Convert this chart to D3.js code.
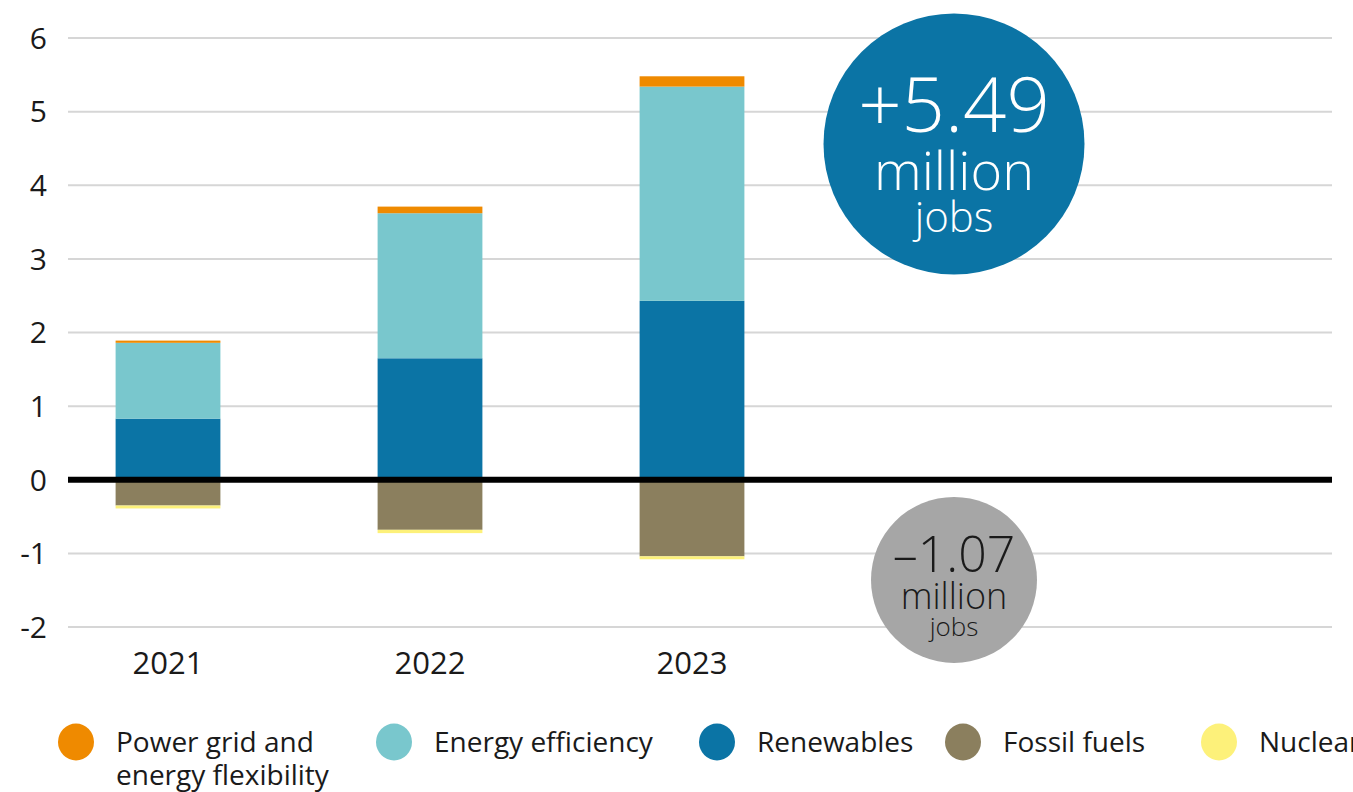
<!DOCTYPE html>
<html><head><meta charset="utf-8">
<script src="https://cdn.jsdelivr.net/npm/d3@7"></script>
<style>
html,body{margin:0;padding:0;background:#fff;}
svg{display:block;}
text{font-family:"Open Sans",sans-serif;}
</style></head>
<body>
<svg id="chart" width="1353" height="792"></svg>
<script>
const years = ["2021", "2022", "2023"];
const renewables = [0.83, 1.65, 2.43];
const energyEfficiency = [1.03, 1.97, 2.91];
const powerGrid = [0.03, 0.09, 0.14];
const fossilFuels = [-0.35, -0.68, -1.04];
const nuclear = [-0.04, -0.045, -0.04];
const yTicks = [-2, -1, 0, 1, 2, 3, 4, 5, 6];
const seriesKeys = ["renewables", "efficiency", "grid", "fossil", "nuclear"];
const legendLabels = [["Power grid and", "energy flexibility"], ["Energy efficiency"], ["Renewables"], ["Fossil fuels"], ["Nuclear"]];
const legendKeys = ["grid", "efficiency", "renewables", "fossil", "nuclear"];
const totalPositive = ["+5.49", "million", "jobs"];
const totalNegative = ["\u20131.07", "million", "jobs"];

const colors = {grid:"#ef8a00", efficiency:"#79c7cd", renewables:"#0b74a5", fossil:"#8b7f5e", nuclear:"#fdf17a"};

const table = years.map((yr, i) => ({year: yr, renewables: renewables[i], efficiency: energyEfficiency[i], grid: powerGrid[i], fossil: fossilFuels[i], nuclear: nuclear[i]}));

const svg = d3.select("#chart");
const x0 = 68, x1 = 1332;
const y = d3.scaleLinear().domain([-2, 6]).range([627, 38]);
const x = d3.scaleBand().domain(years).range([37, 823]).paddingInner(0.6).paddingOuter(0.3);

// gridlines
svg.append("g").selectAll("line").data(yTicks.filter(d => d !== 0)).join("line")
  .attr("x1", x0).attr("x2", x1)
  .attr("y1", d => y(d)).attr("y2", d => y(d))
  .attr("stroke", "#d6d6d6").attr("stroke-width", 2);

// y tick labels
svg.append("g").selectAll("text").data(yTicks).join("text")
  .attr("x", 47).attr("y", d => y(d)).attr("dy", "0.36em")
  .attr("text-anchor", "end").attr("font-size", 30).attr("fill", "#1a1a1a")
  .text(d => d);

// stacked bars
const stack = d3.stack().keys(seriesKeys).offset(d3.stackOffsetDiverging);
const series = stack(table);
svg.append("g").selectAll("g").data(series).join("g")
  .attr("fill", d => colors[d.key])
  .selectAll("rect").data(d => d).join("rect")
  .attr("x", d => x(d.data.year))
  .attr("width", x.bandwidth())
  .attr("y", d => y(Math.max(d[0], d[1])))
  .attr("height", d => Math.abs(y(d[0]) - y(d[1])));

// zero line
svg.append("line").attr("x1", x0).attr("x2", x1).attr("y1", y(0)).attr("y2", y(0))
  .attr("stroke", "#000").attr("stroke-width", 6);

// year labels
svg.append("g").selectAll("text").data(years).join("text")
  .attr("x", d => x(d) + x.bandwidth() / 2).attr("y", 674)
  .attr("text-anchor", "middle").attr("font-size", 31).attr("fill", "#1a1a1a")
  .text(d => d);

// total bubbles
const cx = x(years[2]) + x.bandwidth() / 2 + x.step();
const big = svg.append("g");
big.append("circle").attr("cx", cx).attr("cy", y(4.56)).attr("r", 130.5).attr("fill", "#0b74a5");
const bigSizes = [76, 54, 42], bigY = [132, 190, 232];
totalPositive.forEach((t, i) => {
  big.append("text").attr("x", cx).attr("y", bigY[i]).attr("text-anchor", "middle")
    .attr("font-size", bigSizes[i]).attr("fill", "#fff").attr("font-weight", 300).text(t);
});
const small = svg.append("g");
small.append("circle").attr("cx", cx).attr("cy", y(-1.36)).attr("r", 83).attr("fill", "#a6a6a6");
const smSizes = [50, 36, 26], smY = [572, 609, 636];
totalNegative.forEach((t, i) => {
  small.append("text").attr("x", cx).attr("y", smY[i]).attr("text-anchor", "middle")
    .attr("font-size", smSizes[i]).attr("fill", "#1a1a1a").attr("font-weight", 300).text(t);
});

// legend
const legendX = [76, 394, 717, 963, 1219];
const lg = svg.append("g");
legendKeys.forEach((k, i) => {
  lg.append("ellipse").attr("cx", legendX[i]).attr("cy", 742).attr("rx", 18).attr("ry", 18.5).attr("fill", colors[k]);
  legendLabels[i].forEach((line, j) => {
    lg.append("text").attr("x", legendX[i] + 40).attr("y", 752 + j * 33)
      .attr("font-size", 28).attr("fill", "#1a1a1a").text(line);
  });
});
</script>
</body></html>
